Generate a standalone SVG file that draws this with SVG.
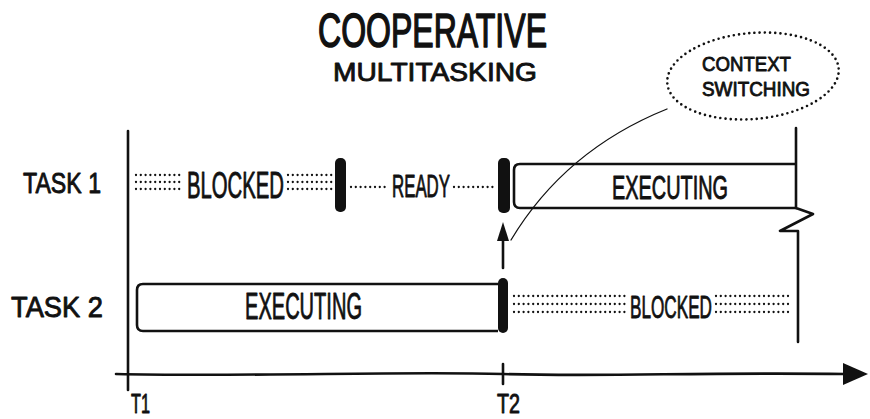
<svg xmlns="http://www.w3.org/2000/svg" width="870" height="419" viewBox="0 0 870 419">
<defs>
<style>
.t{font-family:"Liberation Sans",Arial,sans-serif;fill:#111;stroke:#111;stroke-width:0.9;stroke-linejoin:round;}
.tb{stroke-width:1.6;}
.ln{fill:none;stroke:#111;stroke-width:2.6;stroke-linecap:round;stroke-linejoin:round;}
.thin{fill:none;stroke:#111;stroke-width:1.3;stroke-linecap:round;}
.dot{fill:none;stroke:#111;stroke-width:2.3;stroke-linecap:round;stroke-dasharray:0 4.8;}
.bar{fill:#111;}
.box{fill:#fff;stroke:#111;stroke-width:2.6;}
</style>
</defs>
<rect width="870" height="419" fill="#fff"/>

<g id="title">
<text class="t tb" x="318" y="47" font-size="49" textLength="229" lengthAdjust="spacingAndGlyphs">COOPERATIVE</text>
<text class="t" x="333" y="81" font-size="26" textLength="204" lengthAdjust="spacingAndGlyphs">MULTITASKING</text>
</g>

<g id="bubble">
<ellipse cx="753" cy="76" rx="86" ry="43" transform="rotate(-5 753 76)" fill="none" stroke="#111" stroke-width="2.6" stroke-linecap="round" stroke-dasharray="0 5.2"/>
<text class="t" x="702" y="71" font-size="21" textLength="89" lengthAdjust="spacingAndGlyphs">CONTEXT</text>
<text class="t" x="702" y="96" font-size="21" textLength="108" lengthAdjust="spacingAndGlyphs">SWITCHING</text>
</g>

<g id="labels">
<text class="t" x="23" y="193" font-size="29" textLength="78" lengthAdjust="spacingAndGlyphs">TASK 1</text>
<text class="t" x="11" y="317" font-size="29" textLength="92" lengthAdjust="spacingAndGlyphs">TASK 2</text>
<text class="t" x="131" y="413" font-size="27" textLength="19" lengthAdjust="spacingAndGlyphs">T1</text>
<text class="t" x="497" y="413" font-size="27" textLength="23" lengthAdjust="spacingAndGlyphs">T2</text>
</g>

<g id="task1-blocked">
<path class="dot" d="M136,175 H180 M136,182 H180 M136,189 H180"/>
<text class="t" x="187" y="198" font-size="36" textLength="97" lengthAdjust="spacingAndGlyphs">BLOCKED</text>
<path class="dot" d="M288,175 H333 M288,182 H333 M288,189 H333"/>
</g>

<g id="task1-switch1">
<rect class="bar" x="335" y="158" width="11" height="54" rx="5"/>
</g>

<g id="task1-ready">
<path class="dot" d="M351,187 H389"/>
<text class="t" x="392" y="197" font-size="31" textLength="58" lengthAdjust="spacingAndGlyphs">READY</text>
<path class="dot" d="M454,187 H495"/>
</g>

<g id="task1-switch2">
<rect class="bar" x="498" y="158" width="12" height="55" rx="5"/>
</g>

<g id="task1-executing">
<path class="box" d="M797,164 H520 Q514,164 514,170 V202 Q514,208 520,208 H797"/>
<text class="t" x="612" y="199" font-size="33" textLength="116" lengthAdjust="spacingAndGlyphs">EXECUTING</text>
</g>

<g id="task2-executing">
<path class="box" d="M498,284 H143 Q137,284 137,290 V325 Q137,331 143,331 H498"/>
<text class="t" x="245" y="319" font-size="36" textLength="117" lengthAdjust="spacingAndGlyphs">EXECUTING</text>
</g>

<g id="task2-switch">
<rect class="bar" x="498" y="278" width="10" height="55" rx="5"/>
</g>

<g id="task2-blocked">
<path class="dot" d="M514,296 H626 M514,304 H626 M514,312 H626"/>
<text class="t" x="630" y="318" font-size="32" textLength="82" lengthAdjust="spacingAndGlyphs">BLOCKED</text>
<path class="dot" d="M716,296 H791 M716,304 H791 M716,312 H791"/>
</g>

<g id="connectors">
<path class="ln" d="M128,131 V390"/>
<path class="ln" d="M796,128 V208 L813,214 L780,231 L798,231 V342"/>
<path class="ln" d="M116,374 C250,377 400,371 503,374 S700,372 845,374"/>
<path d="M843,363 L868,374 L843,385 Z" fill="#111"/>
<path class="ln" d="M503,364 V384"/>
<path class="ln" d="M503,268 V232"/>
<path d="M497,241 L503,222 L509,241 Z" fill="#111"/>
<path class="thin" d="M667,109 Q565,150 511,240"/>
</g>
</svg>
